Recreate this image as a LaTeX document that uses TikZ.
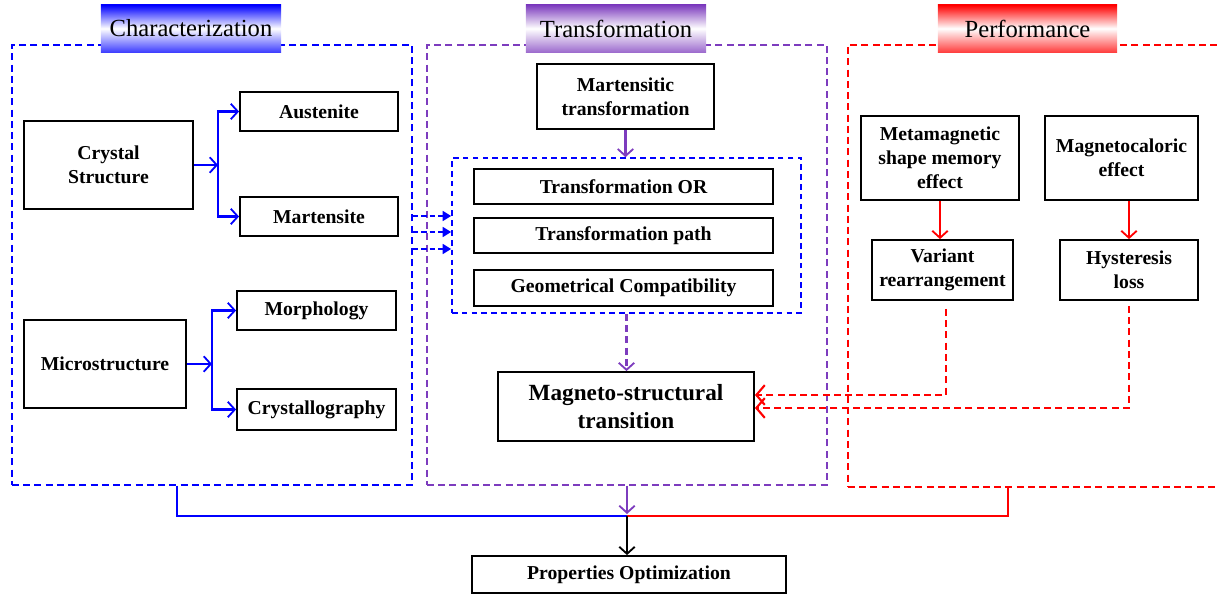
\documentclass[tikz,border=0pt]{standalone}
\usepackage{fontspec}
\setmainfont{Liberation Serif}
\usetikzlibrary{arrows.meta}
\definecolor{tpurple}{RGB}{125,60,190}

\begin{document}
\begin{tikzpicture}[x=0.025cm, y=-0.025cm,
  box/.style={draw, line width=1.3pt, align=center, inner sep=1pt, font=\bfseries\fontsize{14}{17}\selectfont},
  region/.style={draw, dash pattern=on 5pt off 3pt, line width=0.9pt, minimum width=10cm, minimum height=11cm},
  title/.style={minimum width=4.5cm, minimum height=1.175cm, font=\fontsize{17.5}{20}\selectfont},
  barb/.style={-{Straight Barb[length=5pt,width=11pt,line width=1.3pt]}},
  barrow/.style={blue, line width=1.6pt, barb},
  parrow/.style={tpurple, line width=1.5pt, barb},
  rarrow/.style={red, line width=1.5pt, barb},
  rdarrow/.style={red, line width=1.5pt, dash pattern=on 5pt off 3pt, -{Straight Barb[length=6pt,width=14pt,line width=1.5pt]}},
  bdarrow/.style={blue, line width=1.4pt, dash pattern=on 4pt off 2pt, -{Triangle[length=6pt,width=7pt]}}
]
\useasboundingbox (0,0) rectangle (1217,593);

%regions
\node[region, draw=blue] (charbox) at (212,265) {};
\node[region, draw=tpurple] (transbox) at (627,265) {};
\node[region, draw=red, minimum width=9.35cm, minimum height=11.05cm] (perfbox) at (1035,266) {};
\node[draw=blue, dash pattern=on 4pt off 3pt, line width=1.1pt, minimum width=8.725cm, minimum height=3.875cm] (inner) at (626.5,235.5) {};

%titles
\node[title, top color=blue, bottom color=blue!75, middle color=white] (tchar) at (191,28.5) {Characterization};
\node[title, top color=tpurple, bottom color=tpurple!75, middle color=white] (ttrans) at (616,28.5) {Transformation};
\node[title, top color=red, bottom color=red!75, middle color=white, minimum width=4.475cm] (tperf) at (1027.5,28.5) {Performance};

%characterization
\node[box, minimum width=4.225cm, minimum height=2.2cm] (crys) at (108.5,165) {Crystal\\Structure};
\node[box, minimum width=3.95cm, minimum height=0.975cm] (aust) at (319,111.5) {Austenite};
\node[box, minimum width=3.95cm, minimum height=0.975cm] (mart) at (319,216.5) {Martensite};
\node[box, minimum width=4.05cm, minimum height=2.2cm] (micro) at (105,364) {Microstructure};
\node[box, minimum width=3.975cm, minimum height=0.975cm] (morph) at (316.5,310.5) {Morphology};
\node[box, minimum width=3.975cm, minimum height=1.025cm] (cryst) at (316.5,409.5) {Crystallography};

\coordinate (cb) at (218,165);
\coordinate (mb) at (212,364);
\draw[barrow] (crys) -- (cb);
\draw[barrow] (cb) |- (aust);
\draw[barrow] (cb) |- (mart);
\draw[barrow] (micro) -- (mb);
\draw[barrow] (mb) |- (morph);
\draw[barrow] (mb) |- (cryst);

%transformation
\node[box, minimum width=4.425cm, minimum height=1.625cm] (mtrans) at (625.5,96.5) {Martensitic\\transformation};
\node[box, minimum width=7.475cm, minimum height=0.875cm] (tor) at (623.5,186.5) {Transformation OR};
\node[box, minimum width=7.475cm, minimum height=0.875cm] (tpath) at (623.5,235.5) {Transformation path};
\node[box, minimum width=7.475cm, minimum height=0.9cm] (geo) at (623.5,288) {Geometrical Compatibility};
\node[box, minimum width=6.4cm, minimum height=1.725cm, font=\bfseries\fontsize{16.5}{20.5}\selectfont] (magneto) at (626,406.5) {Magneto-structural\\transition};

\draw[parrow] (mtrans.south) -- (mtrans.south |- inner.north);
\draw[parrow, dash pattern=on 5pt off 3pt] (inner.south) -- (inner.south |- magneto.north);
\foreach \yy in {216,232,249}
  \draw[bdarrow] (charbox.east |- 0,\yy) -- (inner.west |- 0,\yy);

%performance
\node[box, minimum width=3.95cm, minimum height=2.1cm] (meta) at (940,158) {Metamagnetic\\shape memory\\effect};
\node[box, minimum width=3.825cm, minimum height=2.1cm] (mcal) at (1121.5,158) {Magnetocaloric\\effect};
\node[box, minimum width=3.525cm, minimum height=1.5cm] (variant) at (942.5,270) {Variant\\rearrangement};
\node[box, minimum width=3.45cm, minimum height=1.5cm] (hyst) at (1129,270) {Hysteresis\\loss};

\draw[rarrow] (meta.south) -- (meta.south |- variant.north);
\draw[rarrow] (hyst.north |- mcal.south) -- (hyst.north);
\draw[rdarrow] ([shift={(3.5,8)}]variant.south) |- (magneto.east |- 0,395);
\draw[rdarrow] ([shift={(0,5)}]hyst.south) |- (magneto.east |- 0,408);

%optimization
\node[box, minimum width=7.85cm, minimum height=0.925cm] (prop) at (629,574.5) {Properties Optimization};
\coordinate (jn) at (627,516);
\draw[blue, line width=1.9pt] (charbox.south -| 177,0) |- (jn);
\draw[red, line width=1.9pt] (perfbox.south -| 1008,0) |- (jn);
\draw[parrow] (transbox.south) -- ([shift={(0,-2)}]jn);
\draw[black, line width=1.5pt, barb] (jn) -- (jn |- prop.north);

\end{tikzpicture}
\end{document}
